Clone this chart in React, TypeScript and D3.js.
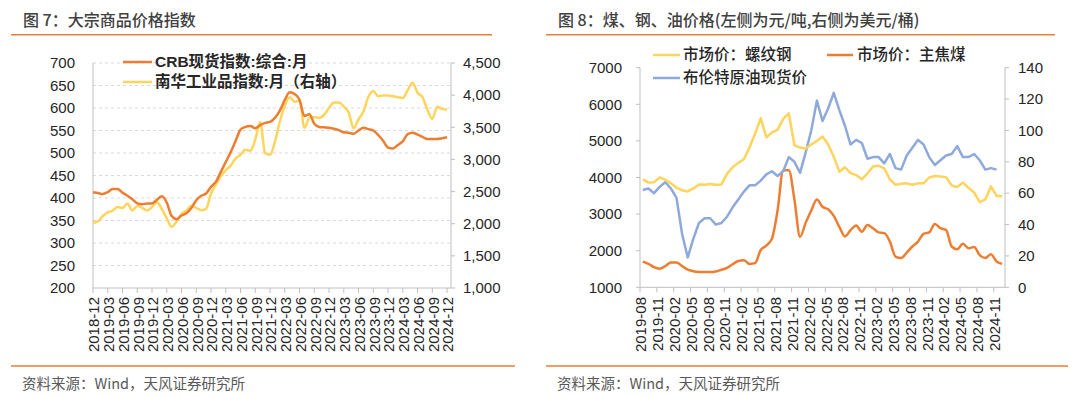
import React from 'react';
import * as d3 from 'd3';

// 图7 数据（月度，2018-12 起）
const crbIndex = [413, 411, 409, 413, 420, 420, 412, 405, 397, 388,
  386, 388, 388, 396, 404, 390, 360, 353, 361, 366,
  378, 395, 405, 410, 425, 436, 458, 480, 502, 527,
  552, 558, 560, 555, 562, 567, 569, 578, 594, 618,
  635, 631, 618, 582, 586, 565, 558, 557, 556, 554,
  551, 546, 545, 543, 550, 556, 553, 550, 540, 527,
  512, 510, 518, 526, 542, 545, 541, 536, 531, 531,
  531, 533, 535];
const nanhuaIndex = [2015, 2036, 2120, 2176, 2204, 2260, 2246, 2316, 2204, 2274,
  2246, 2204, 2260, 2337, 2225, 2085, 1952, 2036, 2155, 2204,
  2274, 2246, 2211, 2232, 2470, 2610, 2736, 2834, 2904, 3016,
  3072, 3149, 3135, 3310, 3583, 3100, 3072, 3275, 3590, 3835,
  3968, 3898, 3912, 3492, 3646, 3660, 3646, 3695, 3800, 3884,
  3884, 3821, 3730, 3485, 3625, 3744, 3975, 4066, 3982, 3996,
  3996, 3982, 3968, 3954, 4080, 4192, 4038, 3968, 3772, 3632,
  3821, 3786, 3772];
const leftTickLabels = ['2018-12', '2019-03', '2019-06', '2019-09', '2019-12', '2020-03', '2020-06',
  '2020-09', '2020-12', '2021-03', '2021-06', '2021-09', '2021-12', '2022-03', '2022-06',
  '2022-09', '2022-12', '2023-03', '2023-06', '2023-09', '2023-12', '2024-03', '2024-06',
  '2024-09', '2024-12'];
const leftYTicks = [200, 250, 300, 350, 400, 450, 500, 550, 600, 650, 700];
const leftY2Ticks = [1000, 1500, 2000, 2500, 3000, 3500, 4000, 4500];

// 图8 数据（月度，2019-08 起）
const rebarPrice = [3950, 3860, 3870, 4000, 3940, 3840, 3720, 3650, 3620, 3700,
  3810, 3800, 3820, 3800, 3810, 4100, 4280, 4400, 4500, 4820,
  5200, 5620, 5100, 5230, 5300, 5600, 5750, 4880, 4820, 4790,
  4900, 5000, 5120, 4900, 4570, 4160, 4280, 4120, 4070, 3950,
  4110, 4300, 4320, 4250, 3950, 3800, 3830, 3840, 3800, 3840,
  3840, 4000, 4040, 4030, 4010, 3780, 3740, 3860, 3720, 3590,
  3330, 3400, 3760, 3500, 3480];
const cokingCoalPrice = [1700, 1640, 1550, 1510, 1580, 1680, 1680, 1580, 1480, 1440,
  1420, 1415, 1415, 1430, 1480, 1530, 1630, 1720, 1740, 1640,
  1660, 2020, 2140, 2330, 3100, 4200, 4200, 3400, 2380, 2760,
  3100, 3400, 3200, 3130, 2950, 2650, 2390, 2560, 2690, 2520,
  2700, 2615, 2500, 2480, 2250, 1840, 1800, 1950, 2115, 2250,
  2460, 2500, 2730, 2615, 2570, 2115, 2040, 2190, 2070, 2100,
  1880, 1800, 1900, 1705, 1640];
const brentPrice = [62, 63, 60, 64, 67, 63, 57, 34, 19, 31,
  41, 44, 44, 40, 41, 45, 51, 56, 61, 65,
  65, 68, 72, 74, 71, 74, 83, 80, 73, 86,
  100, 119, 106, 114, 124, 113, 103, 91, 94, 92,
  82, 83, 83, 79, 85, 76, 75, 84, 89, 94,
  91, 83, 78, 81, 84, 85, 90, 83, 83, 85,
  81, 75, 76, 75];
const rightTickLabels = ['2019-08', '2019-11', '2020-02', '2020-05', '2020-08', '2020-11', '2021-02',
  '2021-05', '2021-08', '2021-11', '2022-02', '2022-05', '2022-08', '2022-11', '2023-02',
  '2023-05', '2023-08', '2023-11', '2024-02', '2024-05', '2024-08', '2024-11'];
const rightYTicks = [1000, 2000, 3000, 4000, 5000, 6000, 7000];
const rightY2Ticks = [0, 20, 40, 60, 80, 100, 120, 140];

const ORANGE = '#ED7D31';
const YELLOW = '#FFD45C';
const BLUE = '#8EA9DB';
const AXIS = '#BFBFBF';
const TEXT = '#262626';
const FONT = '"Liberation Sans", Arial, "Noto Sans CJK SC", sans-serif';
const CJK = '"Noto Sans CJK SC", "Liberation Sans", sans-serif';

const App = () => {
  // ---- 图7 scales
  const lx = d3.scaleLinear().domain([0, 72.8]).range([93, 451]);
  const ly = d3.scaleLinear().domain([200, 700]).range([288, 63]);
  const ly2 = d3.scaleLinear().domain([1000, 4500]).range([288, 63]);
  const crbLine = d3.line<number>().x((d, i) => lx(i)).y(d => ly(d)).curve(d3.curveMonotoneX);
  const nanhuaLine = d3.line<number>().x((d, i) => lx(i)).y(d => ly2(d)).curve(d3.curveMonotoneX);

  // ---- 图8 scales
  const rx = d3.scaleLinear().domain([0, 65]).range([640, 1005]);
  const ry = d3.scaleLinear().domain([1000, 7000]).range([287.3, 67.7]);
  const ry2 = d3.scaleLinear().domain([0, 140]).range([287.3, 67.7]);
  const rebarLine = d3.line<number>().x((d, i) => rx(i + 0.5)).y(d => ry(d));
  const coalLine = d3.line<number>().x((d, i) => rx(i + 0.5)).y(d => ry(d)).curve(d3.curveMonotoneX);
  const brentLine = d3.line<number>().x((d, i) => rx(i + 0.5)).y(d => ry2(d));

  return (
    <svg width={1080} height={397} style={{ position: 'absolute', left: 0, top: 0, background: '#fff' }}
      fontFamily={FONT}>
      {/* titles */}
      <text x={23} y={26} fontFamily={CJK} fontSize={16} fontWeight={500} fill="#404040">图 7：大宗商品价格指数</text>
      <line x1={11} x2={492} y1={34.7} y2={34.7} stroke={ORANGE} strokeWidth={1.5} />
      <text x={558} y={26} fontFamily={CJK} fontSize={16} fontWeight={500} fill="#404040">图 8：煤、钢、油价格(左侧为元/吨,右侧为美元/桶)</text>
      <line x1={546} x2={1055} y1={34.7} y2={34.7} stroke={ORANGE} strokeWidth={1.5} />

      {/* ====== 图7 ====== */}
      {leftYTicks.map(t => (
        <g key={'lg' + t}>
          {t > 200 && <line x1={93} x2={451} y1={ly(t)} y2={ly(t)} stroke="#D9D9D9" strokeDasharray="3,3" />}
          <text x={75} y={ly(t)} dy="0.35em" textAnchor="end" fontSize={15} fill={TEXT}>{t}</text>
        </g>
      ))}
      {leftY2Ticks.map(t => (
        <g key={'lr' + t}>
          <line x1={451} x2={455} y1={ly2(t)} y2={ly2(t)} stroke={AXIS} />
          <text x={463} y={ly2(t)} dy="0.35em" fontSize={15} fill={TEXT}>{d3.format(',')(t)}</text>
        </g>
      ))}
      <line x1={93} x2={93} y1={63} y2={288} stroke={AXIS} />
      <line x1={451} x2={451} y1={63} y2={288} stroke={AXIS} />
      <line x1={93} x2={451} y1={288} y2={288} stroke={AXIS} />
      {leftTickLabels.map((lab, k) => (
        <g key={'lx' + lab}>
          <line x1={lx(k * 3)} x2={lx(k * 3)} y1={288} y2={293} stroke={AXIS} />
          <text transform={`translate(${lx(k * 3) + 1},${297}) rotate(-90)`} textAnchor="end" dy="0.35em"
            fontSize={15} fill={TEXT}>{lab}</text>
        </g>
      ))}
      <path d={nanhuaLine(nanhuaIndex) || ''} fill="none" stroke={YELLOW} strokeWidth={2.5} />
      <path d={crbLine(crbIndex) || ''} fill="none" stroke={ORANGE} strokeWidth={2.5} />
      {/* legend 7 */}
      <line x1={123} x2={152} y1={62} y2={62} stroke={ORANGE} strokeWidth={2.5} />
      <text x={155} y={62} dy="0.35em" fontSize={15.5} fontWeight={600} fill={TEXT}>CRB现货指数:综合:月</text>
      <line x1={123} x2={152} y1={82} y2={82} stroke={YELLOW} strokeWidth={2.5} />
      <text x={155} y={82} dy="0.35em" fontSize={15.5} fontWeight={600} fill={TEXT}>南华工业品指数:月（右轴）</text>
      <line x1={11} x2={515} y1={366} y2={366} stroke={ORANGE} strokeWidth={1.5} />
      <text x={22} y={389} fontFamily={CJK} fontSize={14.5} fill="#595959">资料来源：Wind，天风证券研究所</text>

      {/* ====== 图8 ====== */}
      {rightYTicks.map(t => (
        <g key={'rl' + t}>
          <line x1={636} x2={640} y1={ry(t)} y2={ry(t)} stroke={AXIS} />
          <text x={622} y={ry(t)} dy="0.35em" textAnchor="end" fontSize={15} fill={TEXT}>{t}</text>
        </g>
      ))}
      {rightY2Ticks.map(t => (
        <g key={'rr' + t}>
          <line x1={1005} x2={1009} y1={ry2(t)} y2={ry2(t)} stroke={AXIS} />
          <text x={1018} y={ry2(t)} dy="0.35em" fontSize={15} fill={TEXT}>{t}</text>
        </g>
      ))}
      <line x1={640} x2={640} y1={67.7} y2={287.3} stroke={AXIS} />
      <line x1={1005} x2={1005} y1={67.7} y2={287.3} stroke={AXIS} />
      <line x1={640} x2={1005} y1={287.3} y2={287.3} stroke={AXIS} />
      {rightTickLabels.map((lab, k) => (
        <g key={'rx' + lab}>
          <line x1={rx(k * 3)} x2={rx(k * 3)} y1={287.3} y2={292.3} stroke={AXIS} />
          <text transform={`translate(${rx(k * 3) + 1},${297}) rotate(-90)`} textAnchor="end" dy="0.35em"
            fontSize={15} fill={TEXT}>{lab}</text>
        </g>
      ))}
      <path d={coalLine(cokingCoalPrice) || ''} fill="none" stroke={ORANGE} strokeWidth={2.5} />
      <path d={brentLine(brentPrice) || ''} fill="none" stroke={BLUE} strokeWidth={2.5} strokeLinejoin="round" />
      <path d={rebarLine(rebarPrice) || ''} fill="none" stroke={YELLOW} strokeWidth={2.5} strokeLinejoin="round" />
      {/* legend 8 */}
      <line x1={653} x2={680} y1={55} y2={55} stroke={YELLOW} strokeWidth={2.5} />
      <text x={683} y={55} dy="0.35em" fontFamily={CJK} fontSize={15.5} fontWeight={500} fill={TEXT}>市场价：螺纹钢</text>
      <line x1={827} x2={853} y1={55} y2={55} stroke={ORANGE} strokeWidth={2.5} />
      <text x={857} y={55} dy="0.35em" fontFamily={CJK} fontSize={15.5} fontWeight={500} fill={TEXT}>市场价：主焦煤</text>
      <line x1={653} x2={680} y1={78} y2={78} stroke={BLUE} strokeWidth={2.5} />
      <text x={683} y={78} dy="0.35em" fontFamily={CJK} fontSize={15.5} fontWeight={500} fill={TEXT}>布伦特原油现货价</text>
      <line x1={546} x2={1068} y1={366} y2={366} stroke={ORANGE} strokeWidth={1.5} />
      <text x={557} y={389} fontFamily={CJK} fontSize={14.5} fill="#595959">资料来源：Wind，天风证券研究所</text>
    </svg>
  );
};

export default App;
